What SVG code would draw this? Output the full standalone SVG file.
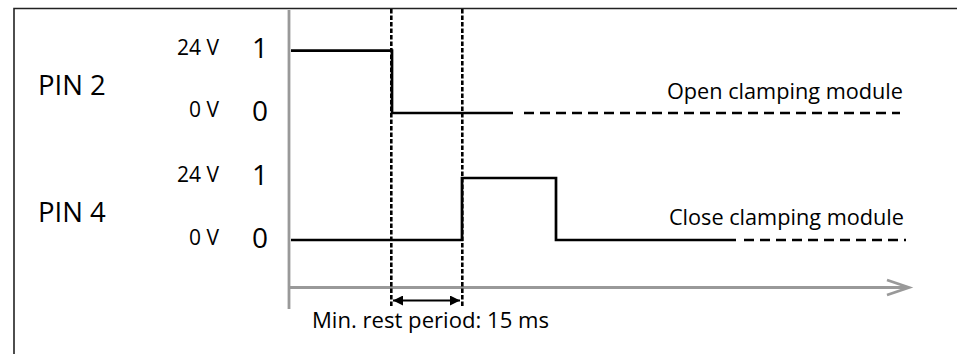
<svg xmlns="http://www.w3.org/2000/svg" width="957" height="354" viewBox="0 0 957 354">
<style>
text{font-family:"Open Sans","Liberation Sans",sans-serif;fill:#000}
.pin{font-size:27.5px}
.volt{font-size:21px;text-anchor:end}
.lvl{font-size:28px;text-anchor:end}
.lab{font-size:21.7px}
.sig{fill:none;stroke:#000;stroke-width:2.7}
.dash{fill:none;stroke:#000;stroke-width:2.7;stroke-dasharray:10 6}
.dot{fill:none;stroke:#000;stroke-width:2.6;stroke-dasharray:4.5 2}
.axis{fill:none;stroke:#999;stroke-width:2.8}
</style>
<defs>
<marker id="ah" viewBox="0 0 10 10" refX="10" refY="5" markerWidth="11" markerHeight="10" markerUnits="userSpaceOnUse" orient="auto-start-reverse">
<path d="M0,0 L10,5 L0,10 Z" fill="#000"/>
</marker>
</defs>
<rect width="957" height="354" fill="#fff"/>
<g id="frame">
<path d="M14,354 V8.5 H957" fill="none" stroke="#222" stroke-width="1.6"/>
</g>
<g id="axes">
<path class="axis" d="M289,10 V309"/>
<path class="axis" d="M289,287.5 H909"/>
<path class="axis" d="M887,280 L909,287.5 L887,295"/>
</g>
<g id="labels">
<text class="pin" x="38" y="95">PIN 2</text>
<text class="pin" x="38" y="222">PIN 4</text>
<text class="volt" x="219" y="55">24 V</text>
<text class="volt" x="219" y="117">0 V</text>
<text class="volt" x="219" y="182">24 V</text>
<text class="volt" x="219" y="245">0 V</text>
<text class="lvl" x="268" y="58">1</text>
<text class="lvl" x="268" y="121">0</text>
<text class="lvl" x="268" y="185">1</text>
<text class="lvl" x="268" y="248">0</text>
<text class="lab" x="903" y="99" text-anchor="end">Open clamping module</text>
<text class="lab" x="904" y="225" text-anchor="end">Close clamping module</text>
<text class="lab" x="312" y="328" style="font-size:22.1px">Min. rest period: 15 ms</text>
</g>
<g id="connectors">
<path class="sig" d="M291,50.7 H392 V113 H513"/>
<path class="dash" d="M524,113 H900"/>
<path class="sig" d="M291,240 H462 V178 H556 V240 H736"/>
<path class="dash" d="M744,240 H906"/>
<path class="dot" d="M391.3,9 V306"/>
<path class="dot" d="M462.3,9 V306"/>
<path d="M393,300.5 H460" stroke="#000" stroke-width="2" marker-start="url(#ah)" marker-end="url(#ah)"/>
</g>
</svg>
